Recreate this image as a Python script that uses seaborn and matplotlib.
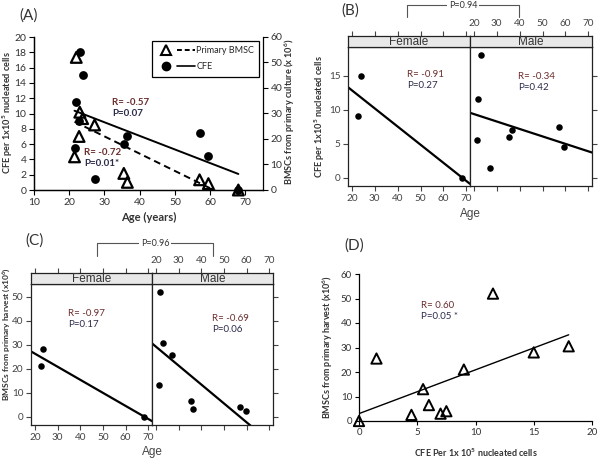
import numpy as np
import pandas as pd
import matplotlib
matplotlib.use("Agg")
import matplotlib.pyplot as plt
import seaborn as sns
from matplotlib.lines import Line2D
from matplotlib.legend_handler import HandlerTuple

# ---------------- data ----------------
age = [21.5, 22.0, 23.0, 22.8, 23.8, 27.2, 35.5, 36.5, 57.0, 59.5, 68.0]
sex = ["Male", "Male", "Male", "Female", "Female", "Male", "Male", "Male", "Male", "Male", "Female"]
cfe = [5.5, 11.5, 18.0, 9.0, 15.0, 1.5, 6.0, 7.0, 7.5, 4.5, 0.0]
bmsc = [13.0, 52.0, 30.5, 21.0, 28.0, 25.5, 6.5, 3.0, 4.0, 2.5, 0.0]

ticks_A_x = [10, 20, 30, 40, 50, 60, 70]
ticks_A_y = list(range(0, 21, 2))
ticks_A_y2 = list(range(0, 61, 10))
ticks_age = [20, 30, 40, 50, 60, 70]
ticks_B_y = [0, 5, 10, 15]
ticks_C_y = [0, 10, 20, 30, 40, 50]
ticks_D_x = [0, 5, 10, 15, 20]
ticks_D_y = [0, 10, 20, 30, 40, 50, 60]

stats_A = ["R= -0.57", "P=0.07", "R= -0.72", "P=0.01*"]
stats_B = {"Female": ("R= -0.91", "P=0.27"), "Male": ("R= -0.34", "P=0.42")}
stats_C = {"Female": ("R= -0.97", "P=0.17"), "Male": ("R= -0.69", "P=0.06")}
stats_D = ("R= 0.60", "P=0.05 *")

df = pd.DataFrame({"age": age, "sex": sex, "cfe": cfe, "bmsc": bmsc})

# ---------------- style ----------------
sns.set_style("white")
plt.rcParams["font.family"] = ["Lato", "DejaVu Sans"]
plt.rcParams["mathtext.default"] = "regular"

W, H = 600, 459
fig = plt.figure(figsize=(6.0, 4.59), dpi=100)


def rect(x0, y0, x1, y1):
    return [x0 / W, 1 - y1 / H, (x1 - x0) / W, (y1 - y0) / H]


def fx(x):
    return x / W


def fy(y):
    return 1 - y / H


RCOL = "#6b2d2d"
PCOL = "#2b2b4a"
TXT = "#333333"

# ---------------- Panel A ----------------
axA = fig.add_axes(rect(34, 37, 263, 190))
axA.set_xlim(10, 75)
axA.set_ylim(0, 20)
axA2 = axA.twinx()
axA2.set_ylim(0, 60)
sns.regplot(data=df, x="age", y="cfe", ax=axA, ci=None, color="black", marker="o",
            scatter_kws=dict(s=40, alpha=1, clip_on=False, zorder=3, linewidths=0),
            line_kws=dict(lw=1.4))
sns.regplot(data=df, x="age", y="bmsc", ax=axA2, ci=None, color="black", marker="^",
            scatter_kws=dict(s=60, facecolors="none", edgecolors="black", linewidths=1.6,
                             alpha=1, clip_on=False, zorder=4),
            line_kws=dict(lw=1.4, ls=(0, (3.5, 2.2))))
axA.set_xlim(10, 75)
axA.set_ylim(0, 20)
axA2.set_ylim(0, 60)
axA.set_xticks(ticks_A_x)
axA.set_yticks(ticks_A_y)
axA2.set_yticks(ticks_A_y2)
for a in (axA, axA2):
    a.spines["top"].set_visible(False)
    for s in a.spines.values():
        s.set_color("black")
        s.set_linewidth(0.9)
    a.tick_params(direction="out", length=3.5, width=0.8, labelsize=7.5, colors="black",
                  labelcolor=TXT, pad=2)
axA.spines["right"].set_visible(False)
axA2.tick_params(axis="y", right=True, left=False)
axA.tick_params(axis="both", bottom=True, left=True)
axA.set_xlabel("Age (years)", fontsize=8, fontweight="bold", color=TXT, labelpad=4)
axA.set_ylabel("")
axA2.set_ylabel("")
fig.text(fx(8), fy(113), "CFE per 1x10$^5$ nucleated cells", fontsize=6.6, rotation=90,
         ha="center", va="center", color=TXT, fontweight="bold")
fig.text(fx(290), fy(112), "BMSCs from primary culture (x 10$^6$)", fontsize=6.6,
         rotation=90, ha="center", va="center", color=TXT, fontweight="bold")

h_tri = Line2D([], [], marker="^", ls="none", mfc="none", mec="black", mew=1.5, ms=7)
h_dash = Line2D([], [], ls=(0, (2.5, 1.5)), color="black", lw=1.4)
h_circ = Line2D([], [], marker="o", ls="none", mfc="black", mec="black", ms=6)
h_line = Line2D([], [], ls="-", color="black", lw=1.2)
leg = axA2.legend([(h_tri, h_dash), (h_circ, h_line)], ["Primary BMSC", "CFE"],
                  handler_map={tuple: HandlerTuple(ndivide=None, pad=0.2)},
                  loc="upper left", bbox_to_anchor=(0.515, 0.975), borderaxespad=0,
                  frameon=True, fancybox=False, edgecolor="black", fontsize=6.5,
                  handlelength=4.2, handletextpad=0.1, labelspacing=0.8,
                  borderpad=0.6)
leg.get_frame().set_linewidth(0.9)
leg.get_frame().set_facecolor("white")
leg.get_frame().set_alpha(1)

fig.text(fx(29), fy(16), "(A)", fontsize=11, ha="center", va="center", color=TXT)
fig.text(fx(112), fy(98), stats_A[0], fontsize=7, color=RCOL, va="top", fontweight="bold")
fig.text(fx(112), fy(109), stats_A[1], fontsize=7, color=PCOL, va="top", fontweight="bold")
fig.text(fx(84), fy(148), stats_A[2], fontsize=7, color=RCOL, va="top", fontweight="bold")
fig.text(fx(84), fy(159), stats_A[3], fontsize=7, color=PCOL, va="top", fontweight="bold")


# ---------------- lattice panels (B, C) ----------------
def lattice(x0, xm, x1, ys, yt, yb, yvar, ylim, yticks, stats, stat_pos):
    axes = {}
    for k, (sx, (l, r)) in enumerate(zip(["Female", "Male"], [(x0, xm), (xm, x1)])):
        ax = fig.add_axes(rect(l, yt, r, yb))
        ax.set_xlim(18.3, 71.6)
        ax.set_ylim(*ylim)
        sub = df[df["sex"] == sx]
        sns.regplot(data=sub, x="age", y=yvar, ax=ax, ci=None, truncate=False,
                    color="black", scatter_kws=dict(s=22, alpha=1, linewidths=0),
                    line_kws=dict(lw=1.6))
        ax.set_xlim(18.3, 71.6)
        ax.set_ylim(*ylim)
        ax.set_xticks(ticks_age)
        ax.set_yticks(yticks)
        ax.set_xlabel("")
        ax.set_ylabel("")
        for s in ax.spines.values():
            s.set_color("#222222")
            s.set_linewidth(0.9)
        ax.tick_params(direction="out", length=3.5, width=0.8, labelsize=7.2,
                       colors="#444444", pad=2)
        if sx == "Female":
            ax.tick_params(axis="y", left=True, right=False, labelleft=True)
            ax.tick_params(axis="x", bottom=True, labelbottom=True)
        else:
            ax.tick_params(axis="y", left=False, right=True, labelleft=False,
                           labelright=False)
            ax.tick_params(axis="x", bottom=True, labelbottom=False)
        sax = fig.add_axes(rect(l, ys, r, yt))
        sax.set_xlim(18.3, 71.6)
        sax.set_facecolor("#e8e8e8")
        sax.set_yticks([])
        sax.set_xticks(ticks_age)
        sax.tick_params(axis="x", bottom=False, labelbottom=False, top=True,
                        labeltop=(sx == "Male"), direction="out", length=3.5,
                        width=0.8, labelsize=7.2, colors="#444444", pad=2)
        for s in sax.spines.values():
            s.set_color("#222222")
            s.set_linewidth(0.9)
        sax.text(0.5, 0.45, sx, transform=sax.transAxes, ha="center", va="center",
                 fontsize=8.5, color="#333333", family=["Liberation Sans"])
        px, py = stat_pos[k]
        fig.text(fx(px), fy(py), stats[sx][0], fontsize=7, color=RCOL, va="top")
        fig.text(fx(px), fy(py + 11), stats[sx][1], fontsize=7, color=PCOL, va="top")
        axes[sx] = ax
    return axes


lattice(348, 470, 592, 36, 47, 186, "cfe", (-1.2, 19.2), ticks_B_y, stats_B,
        [(407, 70), (518, 72)])
lattice(31, 152, 273, 273, 284, 425, "bmsc", (-3.5, 55.3), ticks_C_y, stats_C,
        [(68, 309), (212, 314)])

fig.text(fx(470), fy(214), "Age", fontsize=8.5, color="#444444", ha="center", va="center",
         family=["Liberation Sans"])
fig.text(fx(152), fy(452), "Age", fontsize=8.5, color="#444444", ha="center", va="center",
         family=["Liberation Sans"])
fig.text(fx(320), fy(117), "CFE per 1x10$^5$ nucleated cells", fontsize=6.6, rotation=90,
         ha="center", va="center", color=TXT, fontweight="bold")
fig.text(fx(6), fy(334), "BMSCs from primary harvest (x10$^6$)", fontsize=6,
         rotation=90, ha="center", va="center", color=TXT, fontweight="bold")
fig.text(fx(350), fy(11), "(B)", fontsize=11, ha="center", va="center", color=TXT)
fig.text(fx(35), fy(241), "(C)", fontsize=11, ha="center", va="center", color=TXT)


def bracket(x0, x1, y0, y1, label):
    fig.add_artist(Line2D([fx(x0), fx(x0), fx(x1), fx(x1)], [fy(y1), fy(y0), fy(y0), fy(y1)],
                          transform=fig.transFigure, color="#555555", lw=0.8))
    fig.text(fx((x0 + x1) / 2), fy(y0), label, fontsize=6.5, ha="center", va="center",
             color=TXT, bbox=dict(facecolor="white", edgecolor="none", pad=1.0))


bracket(407, 519, 5, 17, "P=0.94")
bracket(97, 213, 243, 256, "P=0.96")

# ---------------- Panel D ----------------
axD = fig.add_axes(rect(359, 274, 592, 421))
axD.set_xlim(0, 20)
axD.set_ylim(0, 60)
sns.regplot(data=df, x="cfe", y="bmsc", ax=axD, ci=None, color="black", marker="^",
            scatter_kws=dict(s=55, facecolors="none", edgecolors="black", linewidths=1.4,
                             alpha=1, clip_on=False, zorder=4),
            line_kws=dict(lw=1.0))
axD.set_xlim(0, 20)
axD.set_ylim(0, 60)
axD.set_xticks(ticks_D_x)
axD.set_yticks(ticks_D_y)
axD.spines["top"].set_visible(False)
axD.spines["right"].set_visible(False)
for s in axD.spines.values():
    s.set_color("black")
    s.set_linewidth(0.9)
axD.tick_params(direction="out", length=3, width=0.8, labelsize=7, colors="black",
                labelcolor=TXT, pad=2, bottom=True, left=True)
axD.set_xlabel("CFE Per 1x 10$^5$ nucleated cells", fontsize=6.5, fontweight="bold",
               color=TXT, labelpad=7)
axD.set_ylabel("BMSCs from primary harvest (x10$^6$)", fontsize=6.5, fontweight="bold",
               color=TXT, labelpad=4)
fig.text(fx(354), fy(246), "(D)", fontsize=11, ha="center", va="center", color=TXT)
fig.text(fx(421), fy(301), stats_D[0], fontsize=7, color=RCOL, va="top")
fig.text(fx(421), fy(312), stats_D[1], fontsize=7, color=PCOL, va="top")

fig.savefig("out.png", dpi=100)
